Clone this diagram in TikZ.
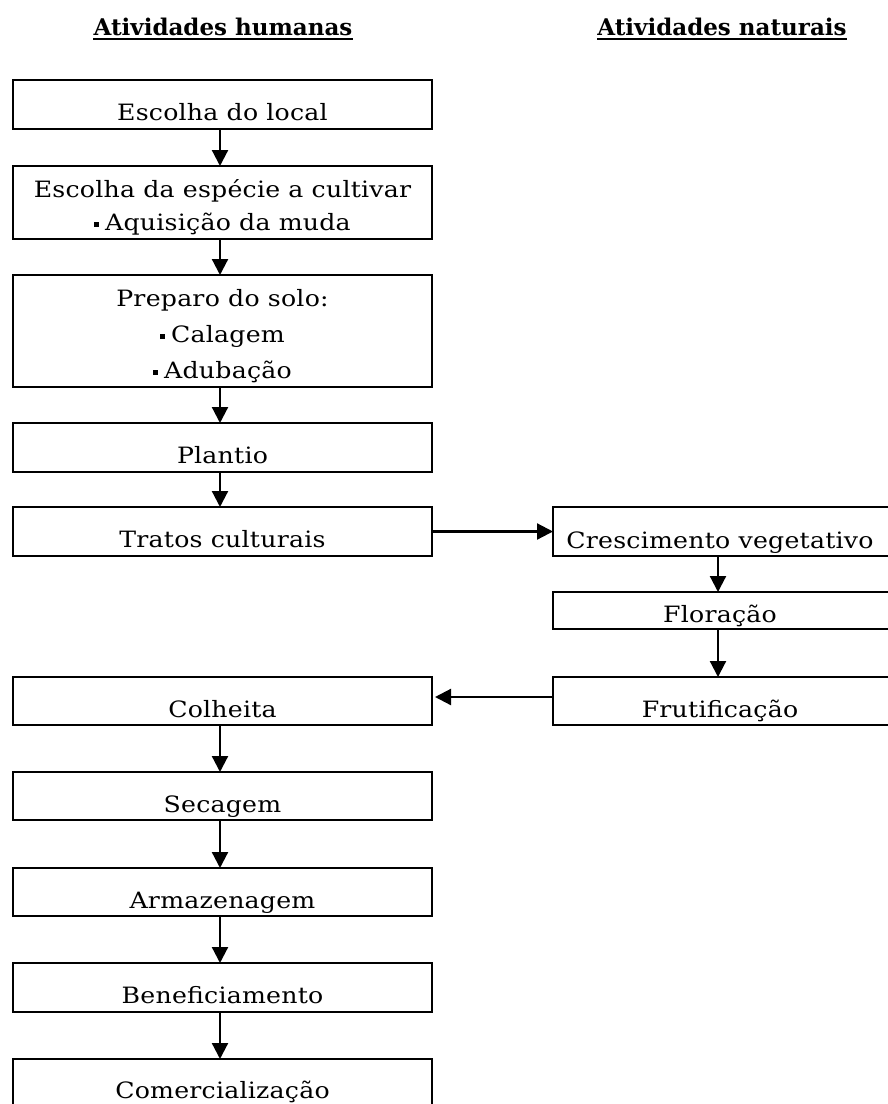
\documentclass[tikz,border=0pt]{standalone}
\usepackage{fontspec}
\setmainfont{DejaVu Serif}[FakeStretch=1.12, LetterSpace=1]
\newfontfamily\hdfont{DejaVu Serif}[FakeStretch=1.0]
\usetikzlibrary{arrows.meta}
\newcommand{\sqb}{\rule[3.5pt]{5pt}{5pt}\hspace{6pt}}
\tikzset{
  box/.style={draw, line width=2.2pt, rectangle, inner sep=0pt, outer sep=0pt, anchor=north west},
  lbox/.style={box, minimum width=419pt},
  rbox/.style={box, minimum width=340pt},
  lbl/.style={anchor=base, inner sep=0pt, align=center, font=\fontsize{22.5}{35}\selectfont},
  conn/.style={line width=2.2pt, -{Triangle[width=16pt,length=16pt]}},
  hdr/.style={anchor=base, inner sep=0pt, font=\hdfont\bfseries\fontsize{23}{26}\selectfont}
}
\begin{document}
\begin{tikzpicture}[x=1pt,y=-1pt]
\clip (0,0) rectangle (888,1104);
\fill[white] (0,0) rectangle (888,1104);
% headers
\node[hdr] (h1) at (223,35) {Atividades humanas};
\node[hdr] (h2) at (722,35) {Atividades naturais};
\draw[line width=2pt] ([yshift=-4pt]h1.base west) -- ([yshift=-4pt]h1.base east);
\draw[line width=2pt] ([yshift=-4pt]h2.base west) -- ([yshift=-4pt]h2.base east);
% left boxes
\node[lbox, minimum height=49pt] (b1) at (13,80) {};
\node[lbox, minimum height=73pt] (b2) at (13,166) {};
\node[lbox, minimum height=112pt] (b3) at (13,275) {};
\node[lbox, minimum height=49pt] (b4) at (13,423) {};
\node[lbox, minimum height=49pt] (b5) at (13,507) {};
\node[lbox, minimum height=48pt] (b6) at (13,677) {};
\node[lbox, minimum height=48pt] (b7) at (13,772) {};
\node[lbox, minimum height=48pt] (b8) at (13,868) {};
\node[lbox, minimum height=49pt] (b9) at (13,963) {};
\node[lbox, minimum height=49pt] (b10) at (13,1059) {};
% right boxes
\node[rbox, minimum height=49pt] (r1) at (553,507) {};
\node[rbox, minimum height=37pt] (r2) at (553,592) {};
\node[rbox, minimum height=48pt] (r3) at (553,677) {};
% labels
\node[lbl] (t1) at ([yshift=9pt]b1.south) {Escolha do local};
\node[lbl] (t2) at ([yshift=9pt]b2.south) {Escolha da espécie a cultivar\\[-2pt] \sqb Aquisição da muda};
\node[lbl] (t3) at ([yshift=9pt]b3.south) {Preparo do solo:\\[1pt] \sqb Calagem\\[1pt] \sqb Adubação};
\node[lbl] (t4) at ([yshift=9pt]b4.south) {Plantio};
\node[lbl] (t5) at ([yshift=9pt]b5.south) {Tratos culturais};
\node[lbl] (t6) at ([yshift=8pt]b6.south) {Colheita};
\node[lbl] (t7) at ([yshift=8pt]b7.south) {Secagem};
\node[lbl] (t8) at ([yshift=8pt]b8.south) {Armazenagem};
\node[lbl] (t9) at ([yshift=9pt]b9.south) {Beneficiamento};
\node[lbl] (t10) at ([yshift=10pt]b10.south) {Comercialização};
\node[lbl] (s1) at ([yshift=8pt,xshift=-3pt]r1.south) {Crescimento vegetativo};
\node[lbl] (s2) at ([yshift=7pt,xshift=-3pt]r2.south) {Floração};
\node[lbl] (s3) at ([yshift=8pt,xshift=-3pt]r3.south) {Frutificação};
% connectors
\foreach \a/\b in {b1/b2,b2/b3,b3/b4,b4/b5,b6/b7,b7/b8,b8/b9,b9/b10}
  \draw[conn] ([xshift=-2.5pt]\a.south) -- ([xshift=-2.5pt]\b.north);
\draw[conn] ([xshift=-5pt]r1.south) -- ([xshift=-5pt]r2.north);
\draw[conn] ([xshift=-5pt]r2.south) -- ([xshift=-5pt]r3.north);
\draw[conn] (b5.east) -- (r1.west);
\draw[conn, shorten >=3pt] ([yshift=4pt]r3.west) -- ([yshift=4pt]b6.east);
\end{tikzpicture}
\end{document}
